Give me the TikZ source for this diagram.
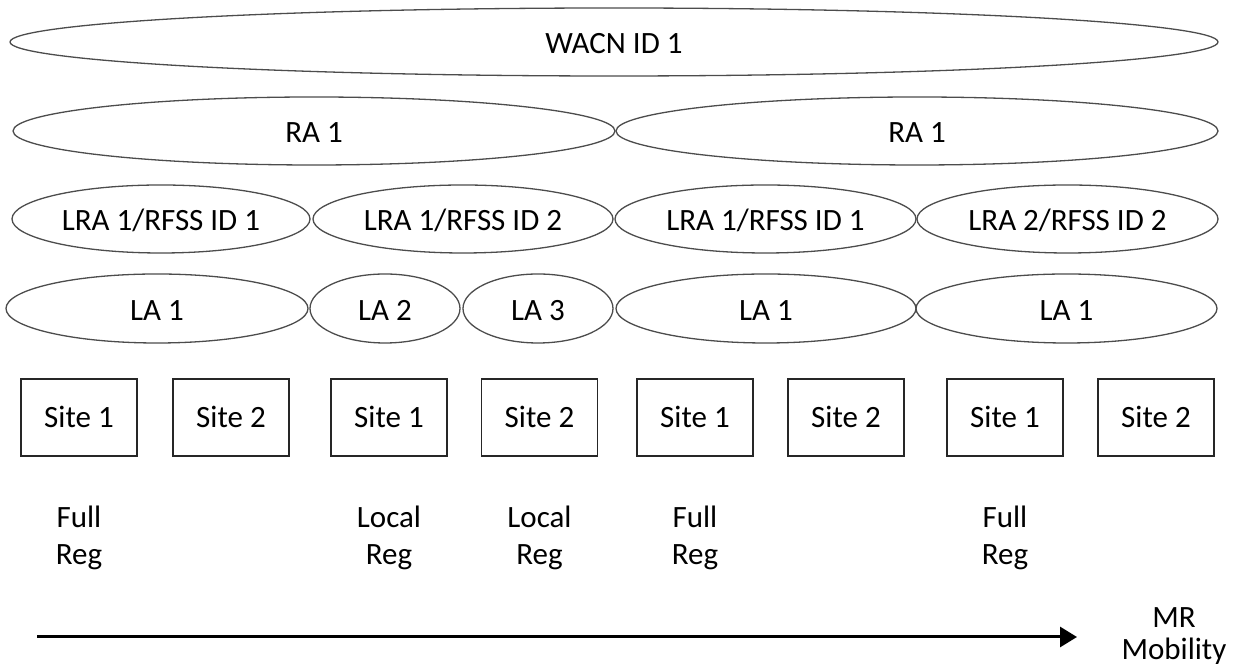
\documentclass[tikz,border=0pt]{standalone}
\usepackage{fontspec}
\setmainfont{Carlito}
\usetikzlibrary{shapes.geometric, positioning, arrows.meta}

\begin{document}
\begin{tikzpicture}[x=1pt, y=1pt,
    zone/.style={ellipse, draw=black!70, line width=1.3pt, inner sep=0pt,
        minimum height=68pt, text height=30pt, text depth=6pt},
    sitebox/.style={rectangle, draw=black!85, line width=1.5pt, inner sep=0pt,
        minimum width=116pt, minimum height=77pt, text height=26pt, text depth=6pt},
    reglabel/.style={align=center, inner sep=0pt, font=\fontsize{31}{37}\selectfont}]

    \useasboundingbox (0,0) rectangle (1239,668);
    \fontsize{31}{33}\selectfont

    % WACN level
    \node[zone, minimum width=1208pt] (wacn) at (614,626) {WACN ID 1};

    % RA level
    \node[zone, minimum width=602pt] (raA) at (314,537) {RA 1};
    \node[zone, minimum width=602pt] (raB) at (917,537) {RA 1};

    % LRA / RFSS level
    \foreach \cx/\w/\lbl [count=\i] in {161/298/{LRA 1/RFSS ID 1}, 463/300/{LRA 1/RFSS ID 2},
                                         765.5/301/{LRA 1/RFSS ID 1}, 1067.5/301/{LRA 2/RFSS ID 2}} {
        \node[zone, minimum width=\w pt] (lra\i) at (\cx,449) {\lbl};
    }

    % LA level
    \foreach \cx/\w/\lbl [count=\i] in {157/302/LA 1, 385/150/LA 2, 538/150/LA 3,
                                         766/300/LA 1, 1066.5/301/LA 1} {
        \node[zone, minimum width=\w pt, minimum height=69pt] (la\i) at (\cx,359.5) {\lbl};
    }

    % Sites
    \foreach \cx/\lbl [count=\i] in {79/1, 231/2, 389/1, 539.5/2,
                                     695/1, 846/2, 1005/1, 1156/2} {
        \node[sitebox] (site\i) at (\cx,250.5) {Site \lbl};
    }

    % Registration type below the sites
    \node[reglabel, below=49pt of site1] (reg1) {Full\\Reg};
    \node[reglabel, below=49pt of site3] (reg3) {Local\\Reg};
    \node[reglabel, below=49pt of site4] (reg4) {Local\\Reg};
    \node[reglabel, below=49pt of site5] (reg5) {Full\\Reg};
    \node[reglabel, below=49pt of site7] (reg7) {Full\\Reg};

    % Mobility arrow
    \coordinate (mobStart) at (37,31);
    \coordinate (mobEnd) at (1077,31);
    \draw[line width=3pt, -{Triangle[length=17pt, width=20pt]}] (mobStart) -- (mobEnd);
    \node[reglabel, font=\fontsize{31}{32}\selectfont] (mobility) at (1174,32) {MR\\Mobility};
\end{tikzpicture}
\end{document}
